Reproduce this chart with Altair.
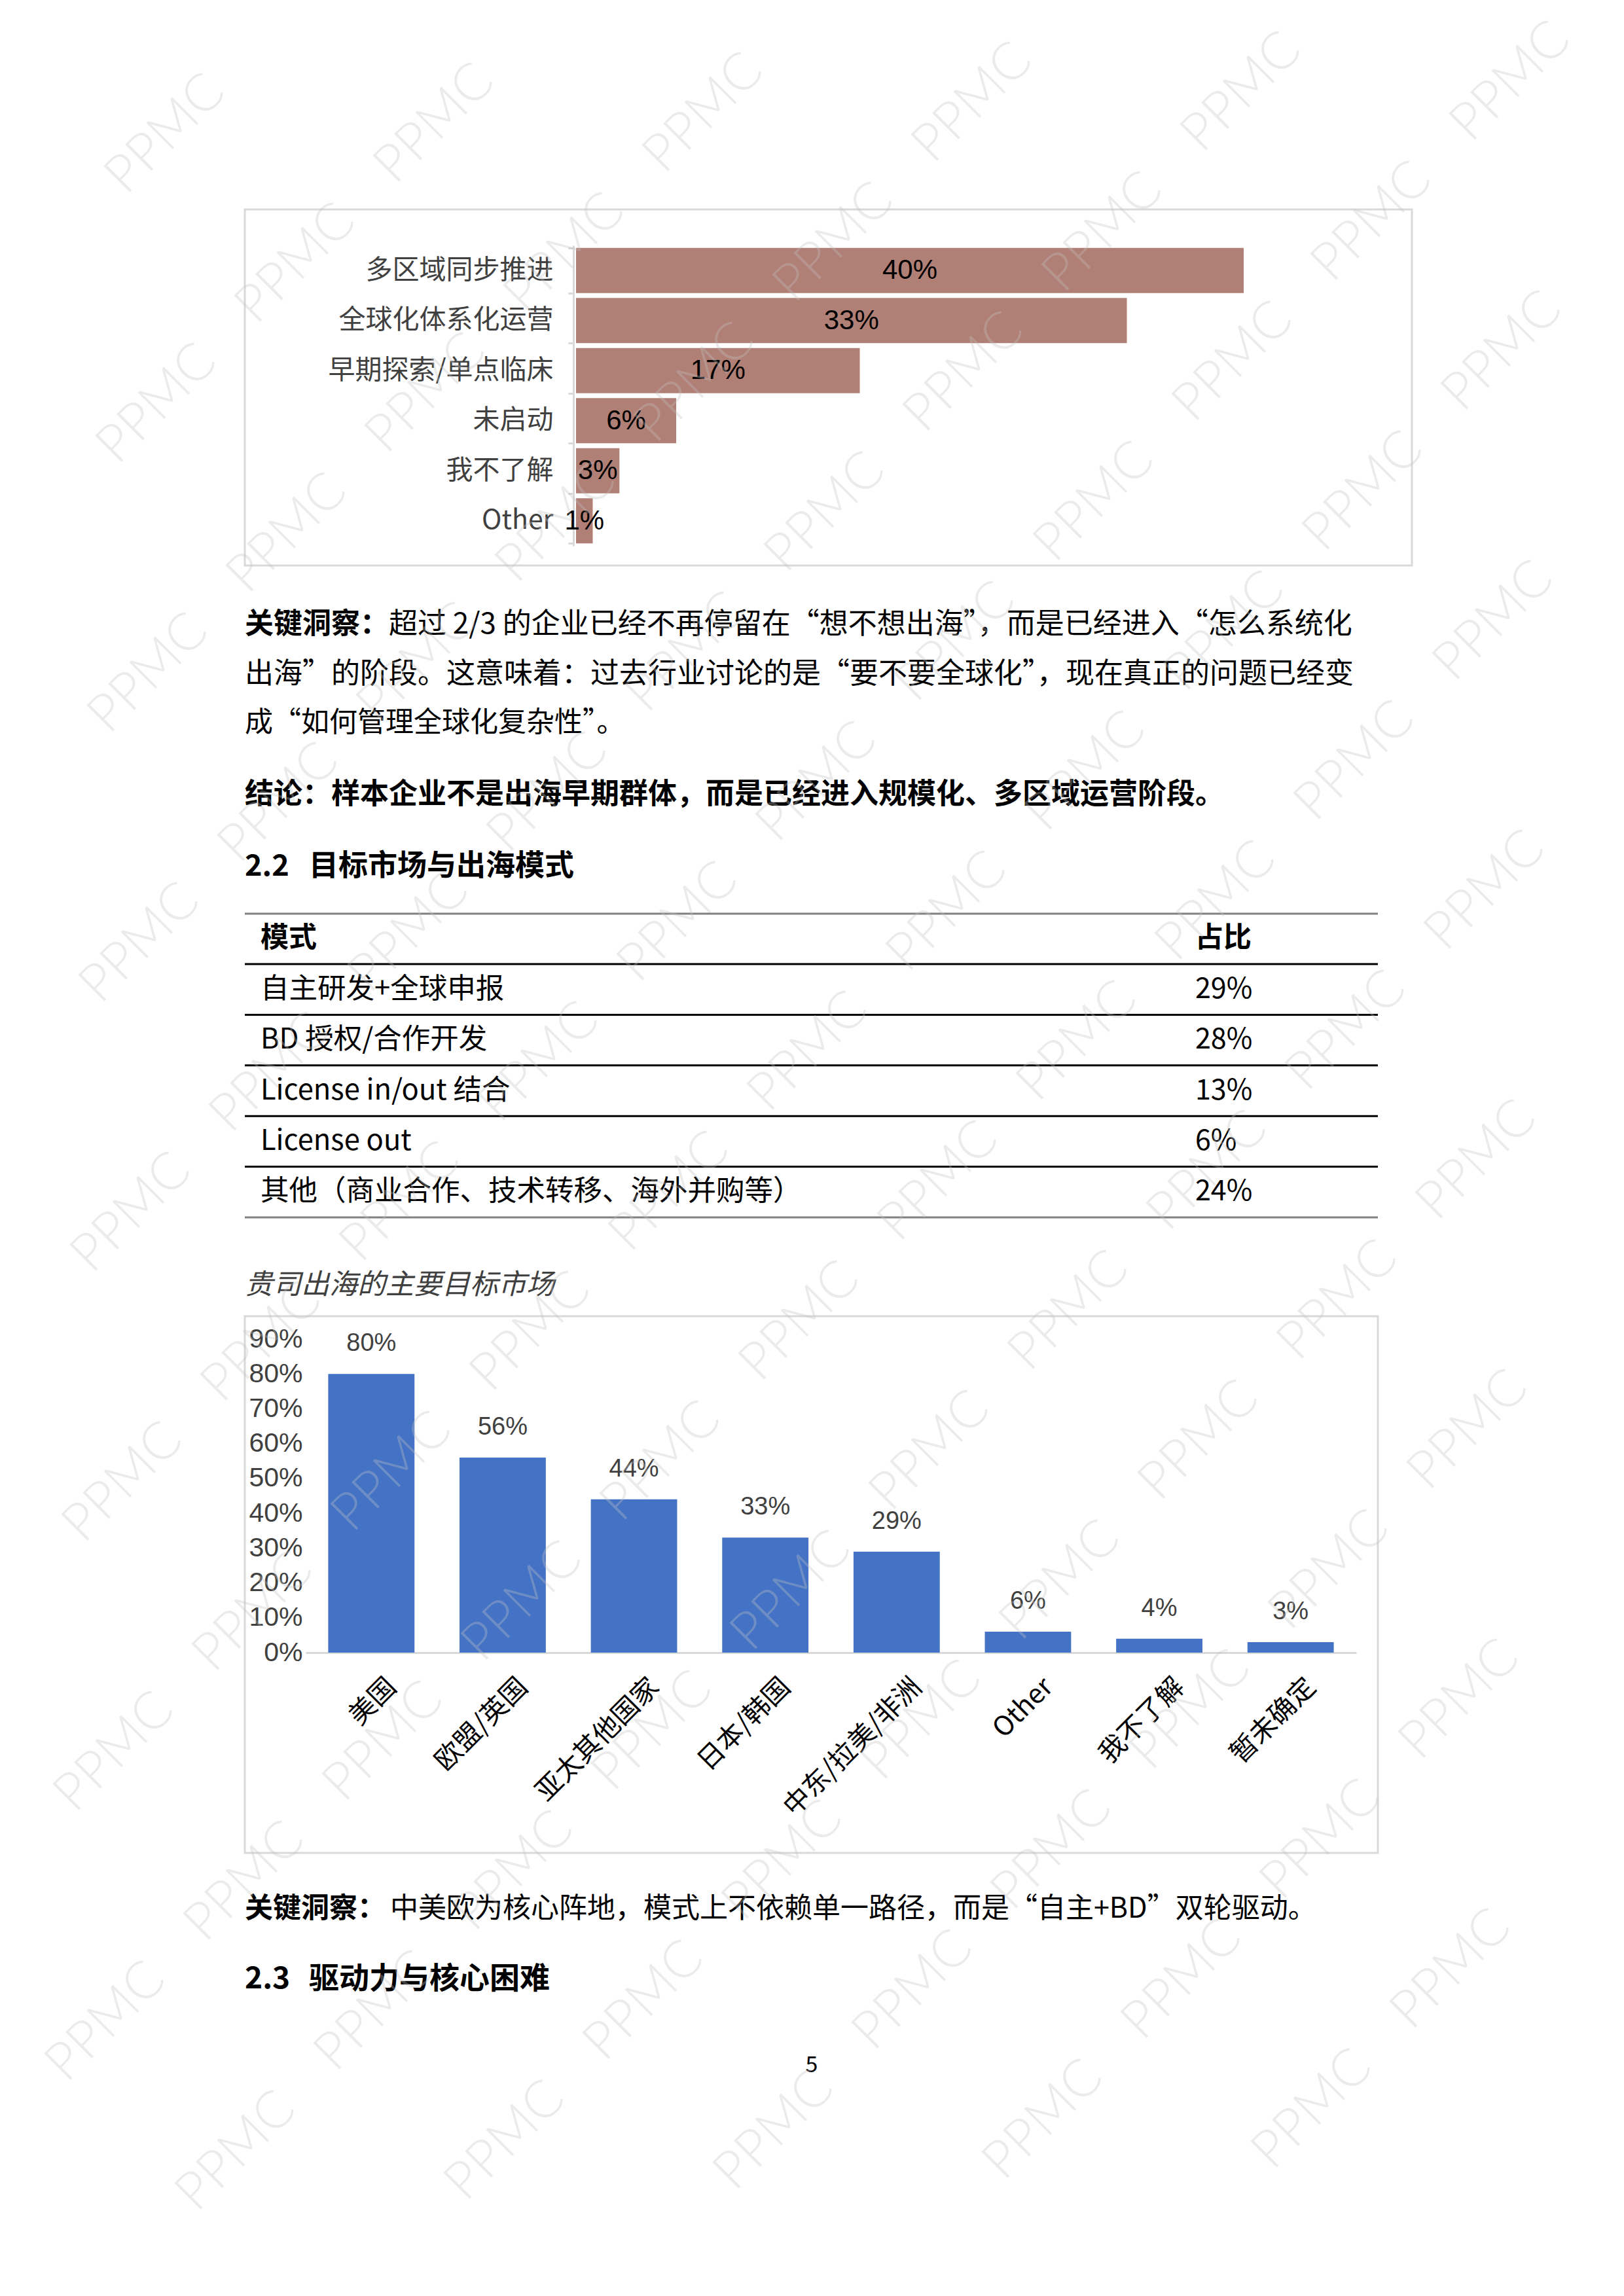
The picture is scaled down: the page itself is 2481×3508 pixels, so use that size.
import altair as alt
import pandas as pd

PAGE_W, PAGE_H = 2481, 3508
CJK = "Noto Sans CJK SC"
NARROW = "Liberation Sans Narrow, Arial Narrow, Liberation Sans, sans-serif"
SANS = "Liberation Sans, Arial, sans-serif"

# ---------------- data ----------------
stage_labels = ["多区域同步推进", "全球化体系化运营", "早期探索/单点临床", "未启动", "我不了解", "Other"]
stage_values = [40, 33, 17, 6, 2.6, 1]

mode_header = ["模式", "占比"]
mode_labels = ["自主研发+全球申报", "BD 授权/合作开发", "License in/out 结合", "License out",
               "其他（商业合作、技术转移、海外并购等）"]
mode_shares = [29, 28, 13, 6, 24]

market_labels = ["美国", "欧盟/英国", "亚太其他国家", "日本/韩国", "中东/拉美/非洲", "Other", "我不了解", "暂未确定"]
market_values = [80, 56, 44, 33, 29, 6, 4, 3]
market_ticks = [0, 10, 20, 30, 40, 50, 60, 70, 80, 90]

insight1_lead = "关键洞察："
insight1_lines = [
    "超过 2/3 的企业已经不再停留在“想不想出海”，而是已经进入“怎么系统化",
    "出海”的阶段。这意味着：过去行业讨论的是“要不要全球化”，现在真正的问题已经变",
    "成“如何管理全球化复杂性”。",
]
conclusion = "结论：样本企业不是出海早期群体，而是已经进入规模化、多区域运营阶段。"
heading22 = ["2.2", "目标市场与出海模式"]
chart2_title = "贵司出海的主要目标市场"
insight2_lead = "关键洞察："
insight2_rest = "中美欧为核心阵地，模式上不依赖单一路径，而是“自主+BD”双轮驱动。"
heading23 = ["2.3", "驱动力与核心困难"]
page_no = "5"
watermark = "PPMC"

df_stage = pd.DataFrame({"stage": stage_labels, "value": stage_values})
df_mode = pd.DataFrame({"mode": mode_labels, "share": mode_shares})
df_market = pd.DataFrame({"market": market_labels, "value": market_values})


def line(s, x, y, size=43, weight="normal", color="#000000", style="normal", align="left", font=CJK):
    return alt.Chart(pd.DataFrame({"t": [s]})).mark_text(
        align=align, baseline="middle", fontSize=size, fontWeight=weight,
        font=font, color=color, fontStyle=style
    ).encode(x=alt.value(x), y=alt.value(y), text="t:N")


def box(x1, y1, x2, y2):
    return alt.Chart(pd.DataFrame({"a": [0]})).mark_rect(
        filled=False, stroke="#d9d9d9", strokeWidth=3
    ).encode(x=alt.value(x1), x2=alt.value(x2), y=alt.value(y1), y2=alt.value(y2))


def hrule(y, x1, x2, color, width):
    return alt.Chart(pd.DataFrame({"a": [0]})).mark_rule(
        color=color, strokeWidth=width
    ).encode(x=alt.value(x1), x2=alt.value(x2), y=alt.value(y))


layers = []

# ---------------- chart 1 : horizontal bars ----------------
layers.append(box(374, 320, 2157, 864))
y1_scale = alt.Scale(domain=stage_labels, range=[375, 834], paddingInner=0.1, paddingOuter=0.05)
x1_scale = alt.Scale(domain=[0, 40], range=[880, 1900], nice=False, zero=True)

bars1 = alt.Chart(df_stage).mark_bar(color="#B07F75").encode(
    y=alt.Y("stage:N", sort=None, scale=y1_scale,
            axis=alt.Axis(orient="left", offset=-876, title=None, domainColor="#d9d9d9", domainWidth=3,
                          tickColor="#d9d9d9", tickWidth=3, tickSize=8, tickBand="extent",
                          labelPadding=23, labelFont=CJK, labelFontSize=41, labelColor="#404040",
                          labelLimit=1000, labelOverlap=False)),
    x=alt.X("value:Q", scale=x1_scale, axis=None),
)
labels1 = alt.Chart(df_stage).transform_calculate(
    mid="datum.value / 2", lab="format(datum.value, '.0f') + '%'"
).mark_text(font=NARROW, fontSize=42, color="#000000", baseline="middle", align="center").encode(
    y=alt.Y("stage:N", sort=None, scale=y1_scale, axis=None),
    x=alt.X("mid:Q", scale=x1_scale, axis=None),
    text="lab:N",
)
layers += [bars1, labels1]

# ---------------- text block 1 ----------------
layers.append(line(insight1_lead, 374, 955, size=44, weight="bold"))
layers.append(line(insight1_lines[0], 374 + 5 * 44, 955, size=44))
layers.append(line(insight1_lines[1], 374, 1031, size=44))
layers.append(line(insight1_lines[2], 374, 1105, size=43))
layers.append(line(conclusion, 374, 1215, size=44, weight="bold"))
layers.append(line(heading22[0], 374, 1324, size=45, weight="bold"))
layers.append(line(heading22[1], 472, 1324, size=45, weight="bold"))

# ---------------- table ----------------
row_scale = alt.Scale(domain=mode_labels, range=[1473, 1860], paddingInner=0, paddingOuter=0)
layers.append(hrule(1396, 374, 2105, "#808080", 3))
layers.append(hrule(1860, 374, 2105, "#808080", 3))
layers.append(line(mode_header[0], 398, 1434, weight="bold"))
layers.append(line(mode_header[1], 1826, 1434, weight="bold"))
row_rules = alt.Chart(df_mode).mark_rule(color="#000000", strokeWidth=3).encode(
    y=alt.Y("mode:N", sort=None, scale=row_scale, axis=None, bandPosition=0),
    x=alt.value(374), x2=alt.value(2105),
)
row_text = alt.Chart(df_mode).mark_text(font=CJK, fontSize=43.5, align="left", baseline="middle",
                                        color="#000000").encode(
    y=alt.Y("mode:N", sort=None, scale=row_scale, axis=None),
    x=alt.value(398), text="mode:N",
)
row_share = alt.Chart(df_mode).transform_calculate(lab="datum.share + '%'").mark_text(
    font=CJK, fontSize=43, align="left", baseline="middle", color="#000000").encode(
    y=alt.Y("mode:N", sort=None, scale=row_scale, axis=None),
    x=alt.value(1826), text="lab:N",
)
layers += [row_rules, row_text, row_share]

# ---------------- chart 2 : vertical bars ----------------
layers.append(line(chart2_title, 374, 1964, size=43, color="#404040", style="italic"))
layers.append(box(374, 2011, 2105, 2831))
x2_scale = alt.Scale(domain=market_labels, range=[467, 2072], paddingInner=0.343, paddingOuter=0.1715)
y2_scale = alt.Scale(domain=[0, 90], range=[2525, 2046], nice=False, zero=True)

bars2 = alt.Chart(df_market).mark_bar(color="#4472C4").encode(
    x=alt.X("market:N", sort=None, scale=x2_scale,
            axis=alt.Axis(orient="bottom", offset=-(PAGE_H - 2525), title=None, domainColor="#d9d9d9",
                          domainWidth=3, ticks=False, tickSize=0, labelAngle=315, labelAlign="right",
                          labelBaseline="middle", labelPadding=46, labelOffset=32, labelFont=CJK,
                          labelFontSize=41, labelColor="#000000", labelLimit=1000, labelOverlap=False)),
    y=alt.Y("value:Q", scale=y2_scale,
            axis=alt.Axis(orient="left", offset=-462, title=None, domain=False, ticks=False, tickSize=0,
                          grid=False, values=market_ticks, labelExpr="datum.value + '%'",
                          labelPadding=0, labelAlign="right", labelBaseline="middle", labelFont=SANS,
                          labelFontSize=41, labelColor="#404040", labelOverlap=False, labelFlush=False)),
)
labels2 = alt.Chart(df_market).transform_calculate(lab="datum.value + '%'").mark_text(
    font=NARROW, fontSize=38, color="#404040", baseline="alphabetic", align="center", dy=-35
).encode(
    x=alt.X("market:N", sort=None, scale=x2_scale, axis=None),
    y=alt.Y("value:Q", scale=y2_scale, axis=None),
    text="lab:N",
)
layers += [bars2, labels2]

# ---------------- text block 2 ----------------
layers.append(line(insight2_lead, 374, 2917, weight="bold"))
layers.append(line(insight2_rest, 374 + 222, 2917))
layers.append(line(heading23[0], 374, 3024, size=46, weight="bold"))
layers.append(line(heading23[1], 472, 3024, size=46, weight="bold"))
layers.append(line(page_no, 1240, 3156, size=34, align="center"))

# ---------------- watermark lattice (only instances fully on the page) ----------------
wm = []
margin = 100
for n in range(-12, 10):
    for m in range(-3, 22):
        px = 253 + 411 * n + 199 * m
        py = 205 - 16 * n + 198 * m
        if margin < px < PAGE_W - margin and margin < py < PAGE_H - margin:
            wm.append({"px": px, "py": py, "t": watermark})
df_wm = pd.DataFrame(wm)
wm_layer = alt.Chart(df_wm).mark_text(
    font="Lato, Noto Sans, sans-serif", fontWeight=300, fontSize=80, angle=315,
    color="#c4c4c4", opacity=0.33, align="center", baseline="middle"
).encode(
    x=alt.X("px:Q", scale=alt.Scale(domain=[0, PAGE_W], range=[0, PAGE_W], nice=False, zero=False), axis=None),
    y=alt.Y("py:Q", scale=alt.Scale(domain=[0, PAGE_H], range=[0, PAGE_H], nice=False, zero=False), axis=None),
    text="t:N",
)
layers.append(wm_layer)

chart = alt.LayerChart(layer=layers).resolve_scale(
    x="independent", y="independent"
).resolve_axis(
    x="independent", y="independent"
).properties(
    width=PAGE_W, height=PAGE_H, padding=0,
    autosize=alt.AutoSizeParams(type="none"), background="white"
).configure_view(strokeWidth=0)

chart.save("out.html", embed_options={"renderer": "svg", "actions": False})
